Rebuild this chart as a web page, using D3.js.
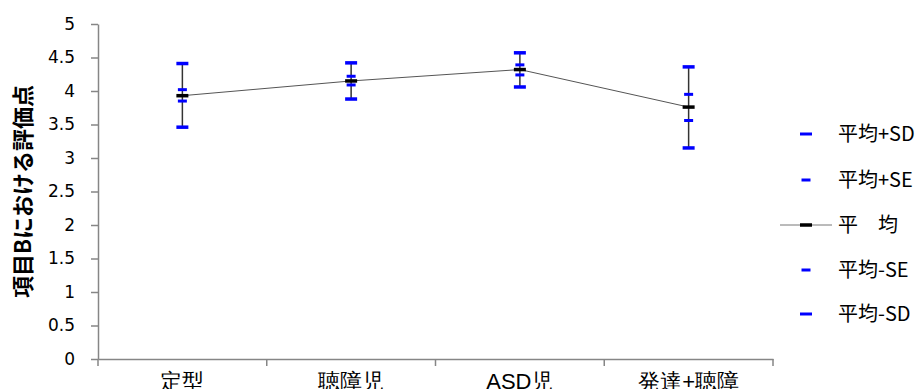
<!DOCTYPE html>
<html>
<head>
<meta charset="utf-8">
<script src="https://cdn.jsdelivr.net/npm/d3@7"></script>
<style>
  body { margin: 0; background: #fff; }
  svg { font-family: "Noto Sans CJK JP", "Noto Sans", sans-serif; }
</style>
</head>
<body>
<div id="chart"></div>
<script>
// groups and values
const categories = ['定型', '聴障児', 'ASD児', '発達+聴障'];
const meanValues = [3.93, 4.15, 4.32, 3.76];
const plusSD = [4.41, 4.42, 4.57, 4.36];
const minusSD = [3.46, 3.88, 4.06, 3.15];
const plusSE = [4.02, 4.22, 4.39, 3.95];
const minusSE = [3.85, 4.09, 4.24, 3.56];
const yTicks = [0, 0.5, 1, 1.5, 2, 2.5, 3, 3.5, 4, 4.5, 5];
const legendLabels = ['平均+SD', '平均+SE', '平\u3000均', '平均-SE', '平均-SD'];

const width = 923, height = 389;
const margin = { top: 24, right: 150, bottom: 30, left: 98 };
const plotW = 773 - margin.left;
const plotH = 359 - margin.top;

const svg = d3.select('#chart').append('svg')
  .attr('width', width)
  .attr('height', height);

const g = svg.append('g')
  .attr('transform', 'translate(' + margin.left + ',' + margin.top + ')');

const xScale = d3.scaleBand()
  .domain(categories)
  .range([0, plotW]);

const yScale = d3.scaleLinear()
  .domain([0, 5])
  .range([plotH, 0]);

// Y axis
const yAxis = g.append('g')
  .call(d3.axisLeft(yScale).tickValues(yTicks).tickFormat(d3.format('')).tickSize(7).tickSizeOuter(0));
yAxis.select('.domain').attr('stroke', '#868686').attr('stroke-width', 1.5);
yAxis.selectAll('.tick line').attr('stroke', '#868686').attr('stroke-width', 1.5);
yAxis.selectAll('text')
  .attr('x', -23)
  .style('font-family', '"DejaVu Sans", sans-serif')
  .style('font-size', '17px')
  .style('fill', '#000');

// X axis: ticks at band edges
const xAxis = g.append('g')
  .attr('transform', 'translate(0,' + plotH + ')')
  .call(d3.axisBottom(xScale).tickSize(0).tickSizeOuter(0));
xAxis.select('.domain').attr('stroke', '#868686').attr('stroke-width', 1.5);
xAxis.selectAll('text')
  .attr('dy', '0')
  .attr('y', 30)
  .style('font-size', '22px')
  .style('fill', '#000');
const edges = categories.map(c => xScale(c)).concat([plotW]);
xAxis.selectAll('.edge')
  .data(edges)
  .enter().append('line')
  .attr('x1', d => d).attr('x2', d => d)
  .attr('y1', 0).attr('y2', 7)
  .attr('stroke', '#868686')
  .attr('stroke-width', 1.5);

const cx = d => xScale(d) + xScale.bandwidth() / 2;

// error bars (vertical lines from -SD to +SD)
g.selectAll('.err')
  .data(categories)
  .enter().append('line')
  .attr('x1', cx).attr('x2', cx)
  .attr('y1', (d, i) => yScale(plusSD[i]))
  .attr('y2', (d, i) => yScale(minusSD[i]))
  .attr('stroke', '#333')
  .attr('stroke-width', 1.5);

// mean line
const line = d3.line()
  .x((d, i) => cx(categories[i]))
  .y(d => yScale(d));
g.append('path')
  .datum(meanValues)
  .attr('fill', 'none')
  .attr('stroke', '#555')
  .attr('stroke-width', 1)
  .attr('d', line);

// caps
function caps(values, w, t, color) {
  g.append('g').selectAll('line')
    .data(values)
    .enter().append('line')
    .attr('x1', (d, i) => cx(categories[i]) - w / 2)
    .attr('x2', (d, i) => cx(categories[i]) + w / 2)
    .attr('y1', d => yScale(d))
    .attr('y2', d => yScale(d))
    .attr('stroke', color)
    .attr('stroke-width', t);
}
caps(plusSD, 12, 3.5, '#0000ff');
caps(minusSD, 12, 3.5, '#0000ff');
caps(plusSE, 9, 3, '#0000ff');
caps(minusSE, 9, 3, '#0000ff');
caps(meanValues, 12, 3.5, '#000');

// legend
const legendY = [134, 180, 225, 270, 314];
const legend = svg.append('g');
legendLabels.forEach((lab, i) => {
  const y = legendY[i];
  if (i === 2) {
    legend.append('line')
      .attr('x1', 780).attr('x2', 832)
      .attr('y1', y).attr('y2', y)
      .attr('stroke', '#777').attr('stroke-width', 1);
    legend.append('line')
      .attr('x1', 800).attr('x2', 812)
      .attr('y1', y).attr('y2', y)
      .attr('stroke', '#000').attr('stroke-width', 3.5);
  } else {
    const w = (i === 0 || i === 4) ? 12 : 9;
    legend.append('line')
      .attr('x1', 806 - w / 2).attr('x2', 806 + w / 2)
      .attr('y1', y).attr('y2', y)
      .attr('stroke', '#0000ff').attr('stroke-width', 3);
  }
  legend.append('text')
    .attr('x', 838)
    .attr('y', y)
    .attr('dy', '0.36em')
    .style('font-size', '20px')
    .text(lab);
});

// Y axis title
svg.append('text')
  .attr('transform', 'translate(31,' + (margin.top + plotH / 2) + ') rotate(-90)')
  .attr('text-anchor', 'middle')
  .style('font-size', '22px')
  .style('font-weight', 'bold')
  .text('項目Bにおける評価点');
</script>
</body>
</html>
